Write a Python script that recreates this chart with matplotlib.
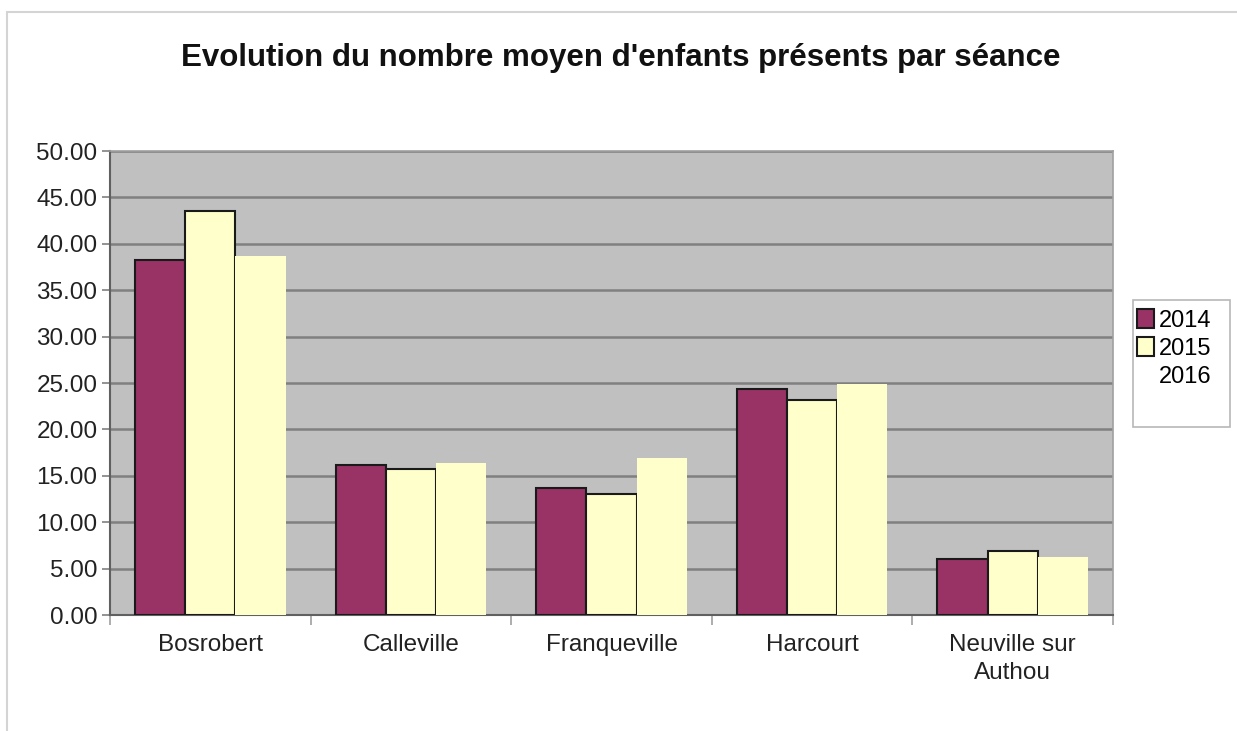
import matplotlib
matplotlib.use("Agg")
import matplotlib.pyplot as plt
import numpy as np
from matplotlib.patches import Patch, Rectangle

plt.rcParams['font.family'] = ['Liberation Sans', 'DejaVu Sans']

categories = ["Bosrobert", "Calleville", "Franqueville", "Harcourt", "Neuville sur\nAuthou"]
years = ["2014", "2015", "2016"]
v2014 = [38.3, 16.2, 13.7, 24.3, 6.0]
v2015 = [43.5, 15.7, 13.0, 23.2, 6.9]
v2016 = [38.7, 16.4, 16.9, 24.9, 6.3]
yticks = [0, 5, 10, 15, 20, 25, 30, 35, 40, 45, 50]

W, H = 1237, 731
fig = plt.figure(figsize=(W / 100, H / 100), dpi=100)
fig.patch.set_facecolor("white")

# outer frame
fig.add_artist(Rectangle((7 / W, -0.01), 1.1, (H - 12) / H + 0.01, transform=fig.transFigure,
                         fill=False, edgecolor="#d4d4d4", linewidth=1.5))

ax = fig.add_axes([110 / W, (H - 615) / H, (1113 - 110) / W, (615 - 151) / H])
ax.set_facecolor("#c0c0c0")

x = np.arange(len(categories))
bw = 0.25
ax.bar(x - bw, v2014, bw, color="#993366", edgecolor="#1a1a1a", linewidth=1.5, zorder=3)
ax.bar(x, v2015, bw, color="#ffffcc", edgecolor="#1a1a1a", linewidth=1.5, zorder=3)
ax.bar(x + bw, v2016, bw, color="#ffffcc", edgecolor="none", linewidth=0, zorder=3)

ax.set_xlim(-0.5, len(categories) - 0.5)
ax.set_ylim(0, 50)
ax.set_yticks(yticks)
ax.set_yticklabels([f"{v:.2f}" for v in yticks], fontsize=17.5, color="#222222")
ax.yaxis.grid(True, color="#808080", linewidth=1.8, zorder=1)
ax.set_axisbelow(True)

ax.set_xticks(np.arange(len(categories) + 1) - 0.5, minor=False)
ax.set_xticklabels([])
ax.set_xticks(x, minor=True)
ax.set_xticklabels(categories, minor=True, fontsize=17.5, color="#222222", linespacing=1.35)
ax.tick_params(axis="x", which="minor", length=0, pad=14)
ax.tick_params(axis="x", which="major", length=7, color="#a0a0a0", width=1.2)
ax.tick_params(axis="y", length=6, color="#808080", width=1.2, pad=3)

for s in ["top", "right"]:
    ax.spines[s].set_color("#a0a0a0")
    ax.spines[s].set_linewidth(1.2)
ax.spines["left"].set_color("#606060")
ax.spines["left"].set_linewidth(1.5)
ax.spines["bottom"].set_color("#606060")
ax.spines["bottom"].set_linewidth(1.5)

fig.text(621 / W, 1 - 58 / H, "Evolution du nombre moyen d'enfants présents par séance",
         ha="center", va="center", fontsize=22.5, fontweight="bold", color="#111111")

# legend box
fig.add_artist(Rectangle((1133 / W, 1 - 427 / H), (1230 - 1133) / W, (427 - 300) / H,
                         transform=fig.transFigure, facecolor="white", edgecolor="#b8b8b8",
                         linewidth=1.2))
handles = [Patch(facecolor="#993366", edgecolor="#1a1a1a", linewidth=1.5),
           Patch(facecolor="#ffffcc", edgecolor="#1a1a1a", linewidth=1.5),
           Patch(facecolor="none", edgecolor="none")]
leg = fig.legend(handles, years, loc="upper left", bbox_to_anchor=(1132 / W, 1 - 304 / H),
                 frameon=False, fontsize=17, handlelength=0.75, handleheight=0.9,
                 handletextpad=0.2, borderpad=0.2, labelspacing=0.22, borderaxespad=0)

fig.savefig("out.png", dpi=100)
